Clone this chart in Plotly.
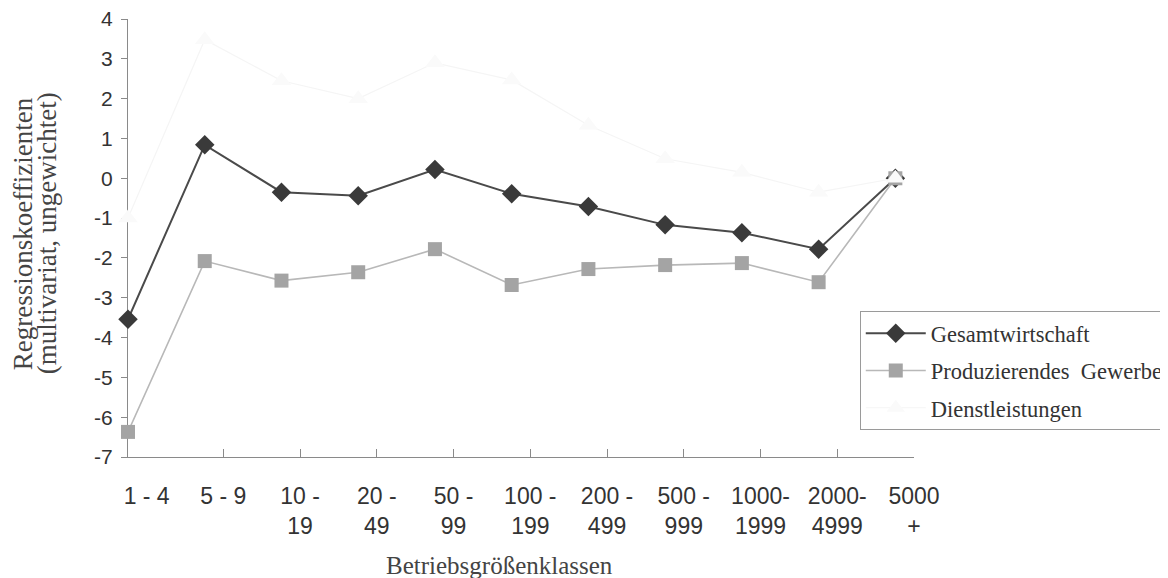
import plotly.graph_objects as go

categories = ["1 - 4", "5 - 9", "10 -<br>19", "20 -<br>49", "50 -<br>99",
              "100 -<br>199", "200 -<br>499", "500 -<br>999", "1000-<br>1999",
              "2000-<br>4999", "5000<br>+"]
gesamt = [-3.54, 0.84, -0.35, -0.44, 0.22, -0.39, -0.71, -1.17, -1.37, -1.78, 0.0]
produz = [-6.37, -2.08, -2.57, -2.36, -1.78, -2.68, -2.28, -2.18, -2.13, -2.61, 0.0]
dienst = [-1.0, 3.48, 2.45, 2.0, 2.9, 2.47, 1.33, 0.49, 0.15, -0.35, 0.0]
y_ticks = [4, 3, 2, 1, 0, -1, -2, -3, -4, -5, -6, -7]
y_ticktext = ["4", "3", "2", "1", "0", "-1", "-2", "-3", "-4", "-5", "-6", "-7"]

idx = list(range(len(categories)))
LABEL_SHIFT = 0.243  # labels in the original sit a little right of the points
label_pos = [i + LABEL_SHIFT for i in idx]
XMAX = 10 + LABEL_SHIFT

fig = go.Figure()
fig.add_trace(go.Scatter(
    x=idx, y=gesamt, name="Gesamtwirtschaft", mode="lines+markers",
    line=dict(color="#4a4a4a", width=2),
    marker=dict(symbol="diamond", size=15, color="#3a3a3a"),
    cliponaxis=False, legendgroup="a"))
fig.add_trace(go.Scatter(
    x=idx, y=produz, name="Produzierendes\u00a0 Gewerbe", mode="lines+markers",
    line=dict(color="#b8b8b8", width=1.6),
    marker=dict(symbol="square", size=14, color="#a4a4a4"),
    cliponaxis=False, legendgroup="b"))
fig.add_trace(go.Scatter(
    x=idx, y=dienst, name="Dienstleistungen", mode="lines+markers",
    line=dict(color="#f5f5f5", width=1.2),
    marker=dict(symbol="triangle-up", size=17, color="#fafafa"),
    cliponaxis=False, legendgroup="c"))

# invisible helper trace on the tick-mark axis
fig.add_trace(go.Scatter(x=[0], y=[0], xaxis="x2", mode="markers",
                         marker=dict(opacity=0), showlegend=False, hoverinfo="skip"))

axis_col = "#8a8a8a"
fig.update_layout(
    width=1160, height=570,
    margin=dict(l=120, r=254, t=11, b=121, autoexpand=False),
    paper_bgcolor="white", plot_bgcolor="white",
    showlegend=True,
    xaxis=dict(range=[0, XMAX], tickmode="array", tickvals=label_pos,
               ticktext=categories, ticks="", showgrid=False, zeroline=False,
               showline=True, linecolor=axis_col, linewidth=1, automargin=False,
               ticklabeloverflow="allow",
               tickfont=dict(family="Liberation Sans, Arial, sans-serif", size=23, color="#333"),
               ticklabelstandoff=18, layer="below traces"),
    xaxis2=dict(range=[0, XMAX], overlaying="x", anchor="y", side="bottom",
                tickmode="array", tickvals=label_pos[1:-1], showticklabels=False,
                ticks="inside", ticklen=8, tickcolor=axis_col, showgrid=False,
                zeroline=False, showline=False, layer="below traces", automargin=False),
    yaxis=dict(range=[-7, 4], tickmode="array", tickvals=y_ticks, ticktext=y_ticktext,
               ticks="outside", ticklen=6, tickcolor=axis_col, showgrid=False,
               zeroline=False, showline=True, linecolor=axis_col, linewidth=1,
               automargin=False, ticklabeloverflow="allow",
               tickfont=dict(family="Liberation Sans, Arial, sans-serif", size=21, color="#333"),
               ticklabelstandoff=4, layer="below traces"),
    legend=dict(x=0.931, y=0.333, xanchor="left", yanchor="top",
                bordercolor="#9a9a9a", borderwidth=1, bgcolor="white",
                font=dict(family="Liberation Serif, Times New Roman, serif", size=22.5, color="#333"),
                itemwidth=60, traceorder="grouped", tracegroupgap=5),
    annotations=[
        dict(text="Regressionskoeffizienten", xref="paper", yref="paper",
             x=-0.134, y=0.51, xanchor="center", yanchor="middle", textangle=-90,
             showarrow=False,
             font=dict(family="Liberation Serif, Times New Roman, serif", size=27, color="#444")),
        dict(text="(multivariat, ungewichtet)", xref="paper", yref="paper",
             x=-0.1036, y=0.51, xanchor="center", yanchor="middle", textangle=-90,
             showarrow=False,
             font=dict(family="Liberation Serif, Times New Roman, serif", size=27, color="#444")),
        dict(text="Betriebsgrößenklassen", xref="paper", yref="paper",
             x=0.473, y=-0.2466, xanchor="center", yanchor="middle",
             showarrow=False,
             font=dict(family="Liberation Serif, Times New Roman, serif", size=25, color="#444")),
    ],
)

fig.write_html("out.html")
